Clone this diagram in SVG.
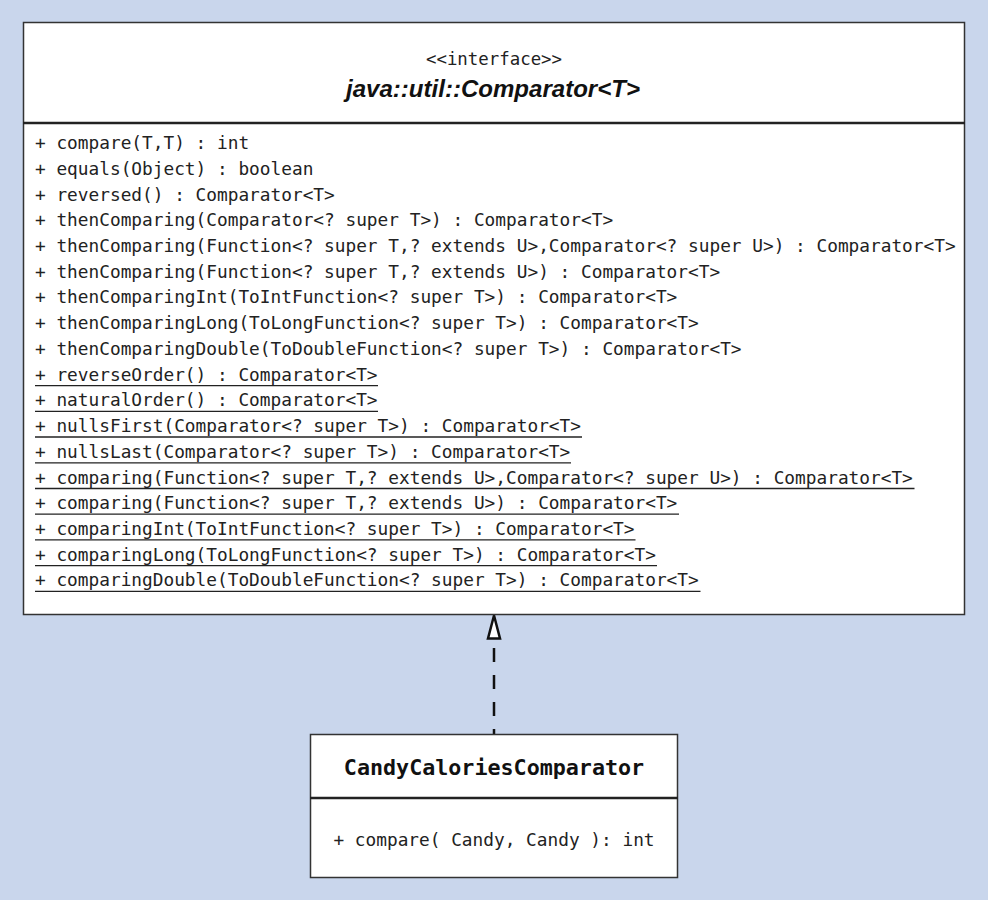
<svg xmlns="http://www.w3.org/2000/svg" width="988" height="900" viewBox="0 0 988 900">
<style>
.box{fill:#fff;stroke:#333;stroke-width:1.5}
.div{stroke:#222;stroke-width:2.5}
.m{font-family:"DejaVu Sans Mono","Liberation Mono",monospace;font-size:17.8px;fill:#222}
.ul{stroke:#222;stroke-width:1.3}
.st{font-family:"DejaVu Sans Mono","Liberation Mono",monospace;font-size:17.4px;fill:#222;text-anchor:middle}
.ti{font-family:"Liberation Sans",Arial,sans-serif;font-size:24px;font-weight:bold;font-style:italic;fill:#111;text-anchor:middle}
.cn{font-family:"DejaVu Sans Mono","Liberation Mono",monospace;font-size:21.7px;font-weight:bold;fill:#111;text-anchor:middle}
.conn{fill:none;stroke:#111;stroke-width:2.5;stroke-dasharray:14 13;stroke-dashoffset:9}
</style>
<defs>
<marker id="realize" markerUnits="userSpaceOnUse" viewBox="-25 -8 27 16" refX="0" refY="0" markerWidth="27" markerHeight="16" orient="auto">
<path d="M0,0 L-23,-6 L-23,6 Z" fill="#fff" stroke="#111" stroke-width="2.5" stroke-linejoin="miter"/>
</marker>
</defs>
<rect width="988" height="900" fill="#c9d6ec"/>
<g id="connectors">
<path class="conn" d="M494,734 V615.5" marker-end="url(#realize)"/>
</g>
<g id="comparator">
<rect class="box" x="23.5" y="22.5" width="941" height="592"/>
<line class="div" x1="23" y1="123" x2="965" y2="123"/>
<text class="st" x="494" y="65">&lt;&lt;interface&gt;&gt;</text>
<text class="ti" x="493" y="97" textLength="294" lengthAdjust="spacingAndGlyphs">java::util::Comparator&lt;T&gt;</text>
<text class="m" x="35" y="149">+ compare(T,T) : int</text>
<text class="m" x="35" y="174.7">+ equals(Object) : boolean</text>
<text class="m" x="35" y="200.5">+ reversed() : Comparator&lt;T&gt;</text>
<text class="m" x="35" y="226.2">+ thenComparing(Comparator&lt;? super T&gt;) : Comparator&lt;T&gt;</text>
<text class="m" x="35" y="251.9">+ thenComparing(Function&lt;? super T,? extends U&gt;,Comparator&lt;? super U&gt;) : Comparator&lt;T&gt;</text>
<text class="m" x="35" y="277.7">+ thenComparing(Function&lt;? super T,? extends U&gt;) : Comparator&lt;T&gt;</text>
<text class="m" x="35" y="303.4">+ thenComparingInt(ToIntFunction&lt;? super T&gt;) : Comparator&lt;T&gt;</text>
<text class="m" x="35" y="329.1">+ thenComparingLong(ToLongFunction&lt;? super T&gt;) : Comparator&lt;T&gt;</text>
<text class="m" x="35" y="354.8">+ thenComparingDouble(ToDoubleFunction&lt;? super T&gt;) : Comparator&lt;T&gt;</text>
<text class="m" x="35" y="380.6">+ reverseOrder() : Comparator&lt;T&gt;</text>
<line class="ul" x1="35" y1="385.6" x2="378" y2="385.6"/>
<text class="m" x="35" y="406.3">+ naturalOrder() : Comparator&lt;T&gt;</text>
<line class="ul" x1="35" y1="411.3" x2="378" y2="411.3"/>
<text class="m" x="35" y="432">+ nullsFirst(Comparator&lt;? super T&gt;) : Comparator&lt;T&gt;</text>
<line class="ul" x1="35" y1="437" x2="582" y2="437"/>
<text class="m" x="35" y="457.8">+ nullsLast(Comparator&lt;? super T&gt;) : Comparator&lt;T&gt;</text>
<line class="ul" x1="35" y1="462.8" x2="571" y2="462.8"/>
<text class="m" x="35" y="483.5">+ comparing(Function&lt;? super T,? extends U&gt;,Comparator&lt;? super U&gt;) : Comparator&lt;T&gt;</text>
<line class="ul" x1="35" y1="488.5" x2="914.5" y2="488.5"/>
<text class="m" x="35" y="509.2">+ comparing(Function&lt;? super T,? extends U&gt;) : Comparator&lt;T&gt;</text>
<line class="ul" x1="35" y1="514.2" x2="679" y2="514.2"/>
<text class="m" x="35" y="534.9">+ comparingInt(ToIntFunction&lt;? super T&gt;) : Comparator&lt;T&gt;</text>
<line class="ul" x1="35" y1="539.9" x2="635.5" y2="539.9"/>
<text class="m" x="35" y="560.7">+ comparingLong(ToLongFunction&lt;? super T&gt;) : Comparator&lt;T&gt;</text>
<line class="ul" x1="35" y1="565.7" x2="657" y2="565.7"/>
<text class="m" x="35" y="586.4">+ comparingDouble(ToDoubleFunction&lt;? super T&gt;) : Comparator&lt;T&gt;</text>
<line class="ul" x1="35" y1="591.4" x2="700.5" y2="591.4"/>
</g>
<g id="candyCaloriesComparator">
<rect class="box" x="310.5" y="734.5" width="367" height="143"/>
<line class="div" x1="310" y1="798" x2="678" y2="798"/>
<text class="cn" x="494" y="775">CandyCaloriesComparator</text>
<text class="m" x="494" y="846" text-anchor="middle">+ compare( Candy, Candy ): int</text>
</g>
</svg>
